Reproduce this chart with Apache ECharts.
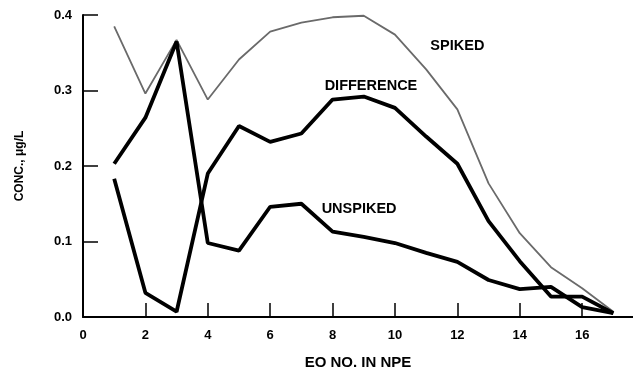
<!DOCTYPE html>
<html>
<head>
<meta charset="utf-8">
<script src="https://cdn.jsdelivr.net/npm/echarts@6/dist/echarts.min.js"></script>
<style>
  html, body { margin: 0; padding: 0; background: #fff; }
  #chart { width: 633px; height: 369px; }
</style>
</head>
<body>
<div id="chart"></div>
<script>
// EO number (x) and the three traced curves as drawn
var eoNo = [1, 2, 3, 4, 5, 6, 7, 8, 9, 10, 11, 12, 13, 14, 15, 16, 17]
var spiked = [0.385, 0.296, 0.367, 0.288, 0.341, 0.378, 0.390, 0.397, 0.399, 0.374, 0.328, 0.275, 0.177, 0.111, 0.066, 0.038, 0.007]
// the two thick curves cross between 3 and 4, kept as drawn in the figure
var difference = [0.183, 0.032, 0.007, 0.190, 0.253, 0.232, 0.243, 0.288, 0.292, 0.277, 0.239, 0.203, 0.127, 0.074, 0.027, 0.027, 0.005]
var unspiked = [0.203, 0.264, 0.365, 0.098, 0.088, 0.146, 0.150, 0.113, 0.106, 0.098, 0.085, 0.073, 0.049, 0.037, 0.040, 0.013, 0.005]
var xTicks = [2, 4, 6, 8, 10, 12, 14, 16]
var xLabels = [0, 2, 4, 6, 8, 10, 12, 14, 16]
var yLabels = [0, 0.1, 0.2, 0.3, 0.4]

// curve name labels, anchored in data space
var curveLabels = [
    { text: 'SPIKED', x: 12.0, y: 0.359 },
    { text: 'DIFFERENCE', x: 9.23, y: 0.306 },
    { text: 'UNSPIKED', x: 8.85, y: 0.143 }
]

var font = '"Liberation Sans", Arial, sans-serif'

function pairs(ys) {
    return eoNo.map(function(x, i) { return [x, ys[i]] })
}

var myChart = echarts.init(document.getElementById('chart'))
var option = {
    animation: false,
    grid: { left: 83, right: 0, top: 15, bottom: 52, outerBoundsMode: 'none' },
    xAxis: {
        type: 'value',
        min: 0,
        max: 17.63,
        name: 'EO NO. IN NPE',
        nameLocation: 'middle',
        nameGap: 38,
        nameTextStyle: { color: '#000', fontWeight: 'bold', fontSize: 15, fontFamily: font },
        axisLine: { lineStyle: { color: '#000', width: 2 } },
        axisTick: { inside: true, length: 14, customValues: xTicks, lineStyle: { color: '#000', width: 1.5 } },
        axisLabel: { customValues: xLabels, color: '#000', fontWeight: 'bold', fontSize: 13, fontFamily: font, margin: 12 },
        splitLine: { show: false }
    },
    yAxis: {
        type: 'value',
        min: 0,
        max: 0.4,
        name: 'CONC., \u03bcg/L',
        nameLocation: 'middle',
        nameGap: 57,
        nameRotate: 90,
        nameTextStyle: { color: '#000', fontWeight: 'bold', fontSize: 12, fontFamily: font },
        axisLine: { show: true, lineStyle: { color: '#000', width: 2 } },
        axisTick: { show: true, inside: true, length: 15, customValues: yLabels, lineStyle: { color: '#000', width: 1.5 } },
        axisLabel: {
            customValues: yLabels,
            color: '#000', fontWeight: 'bold', fontSize: 13, fontFamily: font, margin: 11,
            formatter: function(v) { return v.toFixed(1) }
        },
        splitLine: { show: false }
    },
    series: [
        {
            name: 'SPIKED', type: 'line', showSymbol: false,
            lineStyle: { color: '#6a6a6a', width: 1.8 },
            data: pairs(spiked)
        },
        {
            name: 'DIFFERENCE', type: 'line', showSymbol: false,
            lineStyle: { color: '#000', width: 3.8 },
            data: pairs(difference)
        },
        {
            name: 'UNSPIKED', type: 'line', showSymbol: false,
            lineStyle: { color: '#000', width: 3.8 },
            data: pairs(unspiked)
        }
    ]
}
myChart.setOption(option)

// put the curve names on top using the chart's own scales
myChart.setOption({
    graphic: curveLabels.map(function(l) {
        var p = myChart.convertToPixel({ gridIndex: 0 }, [l.x, l.y])
        return {
            type: 'text', x: p[0], y: p[1],
            style: {
                text: l.text, fill: '#000', align: 'center', verticalAlign: 'middle',
                font: 'bold 14.5px ' + font
            }
        }
    })
})
</script>
</body>
</html>
